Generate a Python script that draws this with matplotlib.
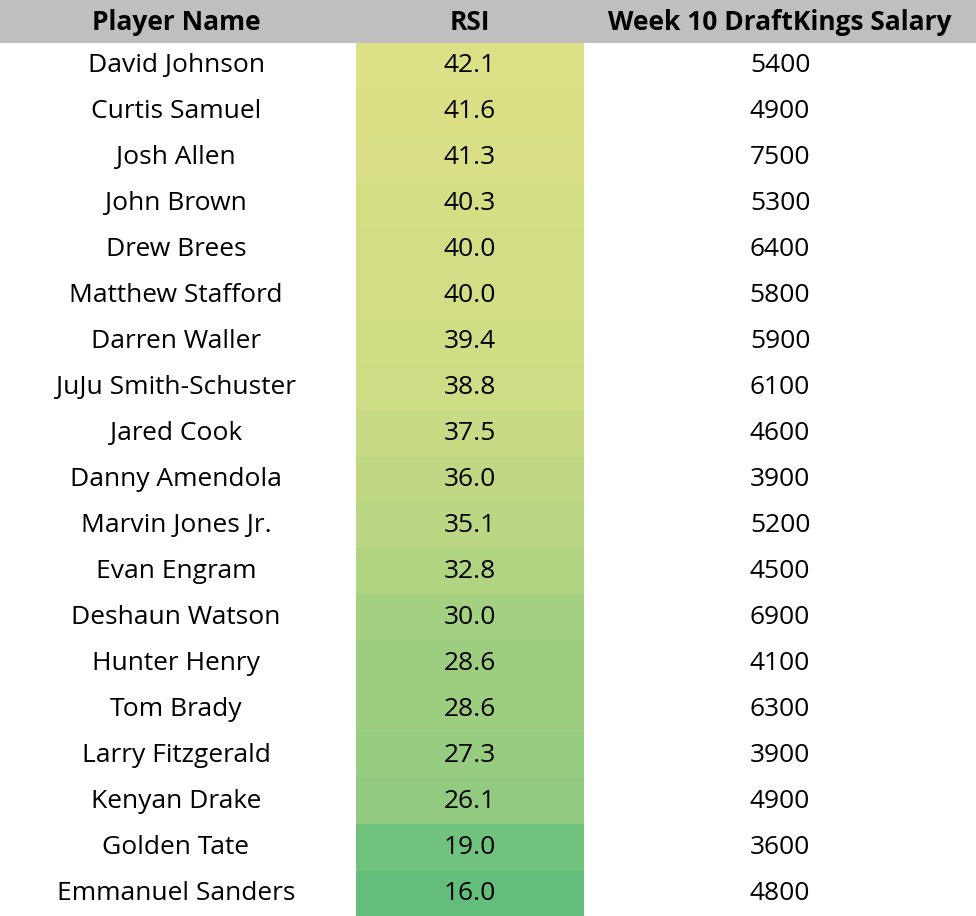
import matplotlib.pyplot as plt
import matplotlib.colors as mcolors

players = ["David Johnson", "Curtis Samuel", "Josh Allen", "John Brown", "Drew Brees",
           "Matthew Stafford", "Darren Waller", "JuJu Smith-Schuster", "Jared Cook",
           "Danny Amendola", "Marvin Jones Jr.", "Evan Engram", "Deshaun Watson",
           "Hunter Henry", "Tom Brady", "Larry Fitzgerald", "Kenyan Drake",
           "Golden Tate", "Emmanuel Sanders"]
rsi = [42.1, 41.6, 41.3, 40.3, 40.0, 40.0, 39.4, 38.8, 37.5, 36.0, 35.1, 32.8,
       30.0, 28.6, 28.6, 27.3, 26.1, 19.0, 16.0]
salary = [5400, 4900, 7500, 5300, 6400, 5800, 5900, 6100, 4600, 3900, 5200, 4500,
          6900, 4100, 6300, 3900, 4900, 3600, 4800]
headers = ["Player Name", "RSI", "Week 10 DraftKings Salary"]

W, H = 976, 916
header_h = 43
row_h = (H - header_h) / len(players)
col_centers = [176, 470, 780]
rsi_left, rsi_right = 356, 584

cmap = mcolors.LinearSegmentedColormap.from_list("rsi", ["#63be7b", "#dce086"])
norm = mcolors.Normalize(min(rsi), max(rsi))

fig = plt.figure(figsize=(W / 100, H / 100), dpi=100)
ax = fig.add_axes([0, 0, 1, 1])
ax.set_xlim(0, W)
ax.set_ylim(H, 0)
ax.axis("off")

font = "Open Sans"
ax.add_patch(plt.Rectangle((0, 0), W, header_h, color="#bfbfbf", lw=0))
for x, text in zip(col_centers, headers):
    ax.text(x, header_h / 2 + 1, text, ha="center", va="center", fontsize=19,
            fontweight="bold", family=font)

for i, (name, r, s) in enumerate(zip(players, rsi, salary)):
    y0 = header_h + i * row_h
    yc = y0 + row_h / 2
    ax.add_patch(plt.Rectangle((rsi_left, y0), rsi_right - rsi_left, row_h + 0.5,
                               color=cmap(norm(r)), lw=0))
    ax.text(col_centers[0], yc, name, ha="center", va="center", fontsize=19, family=font)
    ax.text(col_centers[1], yc, f"{r:.1f}", ha="center", va="center", fontsize=19, family=font)
    ax.text(col_centers[2], yc, str(s), ha="center", va="center", fontsize=19, family=font)

fig.savefig("out.png", dpi=100)
